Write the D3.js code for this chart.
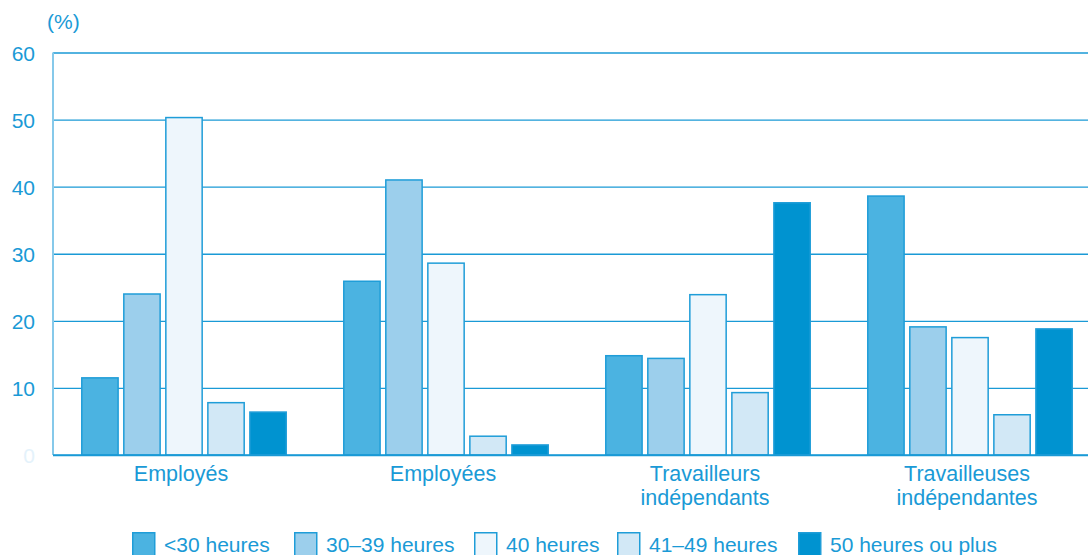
<!DOCTYPE html>
<html><head><meta charset="utf-8">
<script src="https://cdn.jsdelivr.net/npm/d3@7"></script>
<style>body{margin:0;background:#fff}svg{display:block;font-family:"Liberation Sans",Arial,sans-serif}</style>
</head><body><svg id="c" width="1088" height="555"></svg>
<script>
const categories = [["Employés"], ["Employées"], ["Travailleurs", "indépendants"], ["Travailleuses", "indépendantes"]];
const seriesNames = ["<30 heures", "30–39 heures", "40 heures", "41–49 heures", "50 heures ou plus"];
const seriesColors = ["#4bb3e1", "#9ccfec", "#eef6fc", "#d2e8f6", "#0093d0"];
const values = [
  [11.5, 24.0, 50.3, 7.8, 6.4],
  [25.9, 41.0, 28.6, 2.8, 1.5],
  [14.8, 14.4, 23.9, 9.3, 37.6],
  [38.6, 19.1, 17.5, 6.0, 18.8]
];
const yTicks = [0, 10, 20, 30, 40, 50, 60];
const yUnit = "(%)";

(function () {
const svg = d3.select("#c");
const mLeft = 53, mRight = 1101, mTop = 52.5, mBottom = 455;
const blue = "#1a9ad6";

const x0 = d3.scaleBand().domain(d3.range(categories.length)).range([mLeft, mRight]).paddingInner(0.214).paddingOuter(0.107);
const x1 = d3.scaleBand().domain(d3.range(seriesNames.length)).range([0, x0.bandwidth()]).paddingInner(0.1);
const y = d3.scaleLinear().domain([0, 60]).range([mBottom, mTop]);

const yAxis = d3.axisLeft(y).tickValues(yTicks).tickSize(-(1088 - mLeft)).tickFormat(d3.format("d"));
const ga = svg.append("g").attr("transform", `translate(${mLeft},0)`).call(yAxis)
  .attr("font-size", 21).attr("font-family", null);
ga.select(".domain").remove();
ga.selectAll(".tick line").attr("stroke", blue).attr("stroke-width", 1.3);
ga.selectAll(".tick text").attr("x", -18).attr("fill", (d) => d === 0 ? "#e4f2fb" : blue)
  .attr("dy", "0.36em");

svg.append("text").attr("x", 47).attr("y", 29).attr("fill", blue).attr("font-size", 21).text(yUnit);

svg.append("line").attr("x1", mLeft).attr("x2", mLeft).attr("y1", y(60)).attr("y2", mBottom)
  .attr("stroke", "#86c9ea").attr("stroke-width", 2);

const groups = svg.append("g").selectAll("g").data(values).join("g")
  .attr("transform", (d, i) => `translate(${x0(i)},0)`);
groups.selectAll("rect").data(d => d).join("rect")
  .attr("x", (d, j) => x1(j) + 0.75)
  .attr("width", x1.bandwidth() - 1.5)
  .attr("y", d => y(d))
  .attr("height", d => mBottom - y(d))
  .attr("fill", (d, j) => seriesColors[j])
  .attr("stroke", "#1f9dd8")
  .attr("stroke-width", 1.5);

svg.append("line").attr("x1", mLeft).attr("x2", 1088).attr("y1", mBottom).attr("y2", mBottom)
  .attr("stroke", blue).attr("stroke-width", 1.5);

const cl = svg.append("g").selectAll("text").data(categories).join("text")
  .attr("x", (d, i) => x0(i) + x0.bandwidth() / 2 - 3)
  .attr("y", 481).attr("text-anchor", "middle").attr("fill", blue).attr("font-size", 21.5);
cl.selectAll("tspan").data(d => d).join("tspan")
  .attr("x", function () { return d3.select(this.parentNode).attr("x"); })
  .attr("dy", (d, k) => k === 0 ? 0 : 24).text(d => d);

const legX = [132, 294, 474, 617, 798];
const lg = svg.append("g").selectAll("g").data(seriesNames).join("g")
  .attr("transform", (d, i) => `translate(${legX[i]},532)`);
lg.append("rect").attr("x", 0.75).attr("y", 0.75).attr("width", 22).attr("height", 26)
  .attr("fill", (d, i) => seriesColors[i]).attr("stroke", "#1f9dd8").attr("stroke-width", 1.5);
lg.append("text").attr("x", 32).attr("y", 20).attr("fill", blue).attr("font-size", 21).text(d => d);
})();
</script></body></html>
